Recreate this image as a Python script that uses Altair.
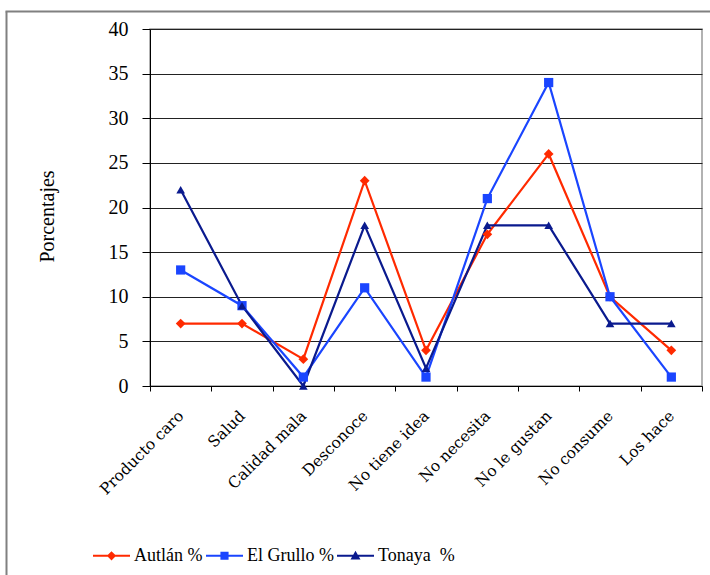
import altair as alt
import pandas as pd

categorias = ["Producto caro", "Salud", "Calidad mala", "Desconoce", "No tiene idea",
              "No necesita", "No le gustan", "No consume", "Los hace"]
series = ["Autlán %", "El Grullo %", "Tonaya \u00a0%"]
autlan = [7, 7, 3, 23, 4, 17, 26, 10, 4]
el_grullo = [13, 9, 1, 11, 1, 21, 34, 10, 1]
tonaya = [22, 9, 0, 18, 2, 18, 18, 7, 7]
colores = ["#FF2A00", "#1A45FF", "#0A1A8E"]
y_ticks = [0, 5, 10, 15, 20, 25, 30, 35, 40]

rows = []
for s, vals in zip(series, [autlan, el_grullo, tonaya]):
    for c, v in zip(categorias, vals):
        rows.append({"Categoria": c, "Serie": s, "SerieL": s, "Valor": v})
df = pd.DataFrame(rows)

SERIF = "Liberation Serif"
W, H = 552, 357

x_enc = alt.X("Categoria:N", sort=categorias, scale=alt.Scale(paddingInner=0, paddingOuter=0),
              axis=alt.Axis(title=None, labelAngle=-45, labelAlign="right", labelBaseline="top",
                            labelFont="DejaVu Serif", labelFontSize=15.5, labelColor="black",
                            labelPadding=17, labelOffset=-5, tickBand="extent", tickSize=5,
                            tickColor="black", domainColor="black", grid=False,
                            labelOverlap=False))
y_enc = alt.Y("Valor:Q", scale=alt.Scale(domain=[0, 40], nice=False),
              axis=alt.Axis(title="Porcentajes", values=y_ticks, tickSize=8, labelPadding=14,
                            labelFont=SERIF, labelFontSize=20, labelColor="black",
                            titleFont=SERIF, titleFontSize=20, titleFontWeight="normal",
                            titleColor="black", titleX=-103, titleY=187, titleBaseline="middle",
                            tickColor="black", domainColor="black", gridColor="#222222",
                            gridWidth=1))

color_scale = alt.Scale(domain=series, range=colores)

lines = alt.Chart(df).mark_line(strokeWidth=2.2).encode(
    x=x_enc, y=y_enc,
    color=alt.Color("Serie:N", scale=color_scale, legend=None),
    detail="Serie:N",
)

points = alt.Chart(df).mark_point(filled=True, opacity=1).encode(
    x=x_enc, y=y_enc,
    color=alt.Color("Serie:N", scale=color_scale, legend=None),
    shape=alt.Shape("Serie:N", scale=alt.Scale(domain=series, range=["diamond", "square", "triangle-up"]),
                    legend=None),
    size=alt.Size("Serie:N", scale=alt.Scale(domain=series, range=[95, 75, 115]), legend=None),
)

leg_paths = [
    "M-1,-0.05L1,-0.05L1,0.05L-1,0.05Z M0,-0.25L0.25,0L0,0.25L-0.25,0Z",
    "M-1,-0.05L1,-0.05L1,0.05L-1,0.05Z M-0.22,-0.22L0.22,-0.22L0.22,0.22L-0.22,0.22Z",
    "M-1,-0.05L1,-0.05L1,0.05L-1,0.05Z M0,-0.27L0.27,0.2L-0.27,0.2Z",
]

legend_layer = alt.Chart(df).transform_filter("false").mark_point(filled=True, opacity=1).encode(
    x=x_enc, y=y_enc,
    color=alt.Color("SerieL:N", scale=alt.Scale(domain=series, range=colores),
                    legend=alt.Legend(title=None, orient="none", direction="horizontal",
                                      legendX=-57, legendY=508, symbolSize=1369,
                                      symbolOpacity=1, symbolStrokeWidth=0,
                                      labelFont=SERIF, labelFontSize=18, labelColor="black",
                                      labelOffset=4, columnPadding=3, padding=0)),
    shape=alt.Shape("SerieL:N", scale=alt.Scale(domain=series, range=leg_paths)),
)

frame_df = pd.DataFrame({"k": [0]})
frame_left = alt.Chart(frame_df).mark_rule(color="#808080", strokeWidth=2).encode(
    x=alt.value(-143.5), y=alt.value(-17.5), y2=alt.value(560))
frame_top = alt.Chart(frame_df).mark_rule(color="#808080", strokeWidth=2).encode(
    x=alt.value(-144.5), x2=alt.value(570), y=alt.value(-17.5))

chart = alt.layer(frame_left, frame_top, lines, points, legend_layer).resolve_scale(
    color="independent", shape="independent"
).properties(
    width=W, height=H,
    autosize=alt.AutoSizeParams(type="none"),
    padding={"left": 150, "top": 29, "right": 8, "bottom": 189},
    background="white",
).configure_view(stroke="#999999", strokeWidth=1.5)

chart.save("out.html", embed_options={"renderer": "svg", "actions": False})
